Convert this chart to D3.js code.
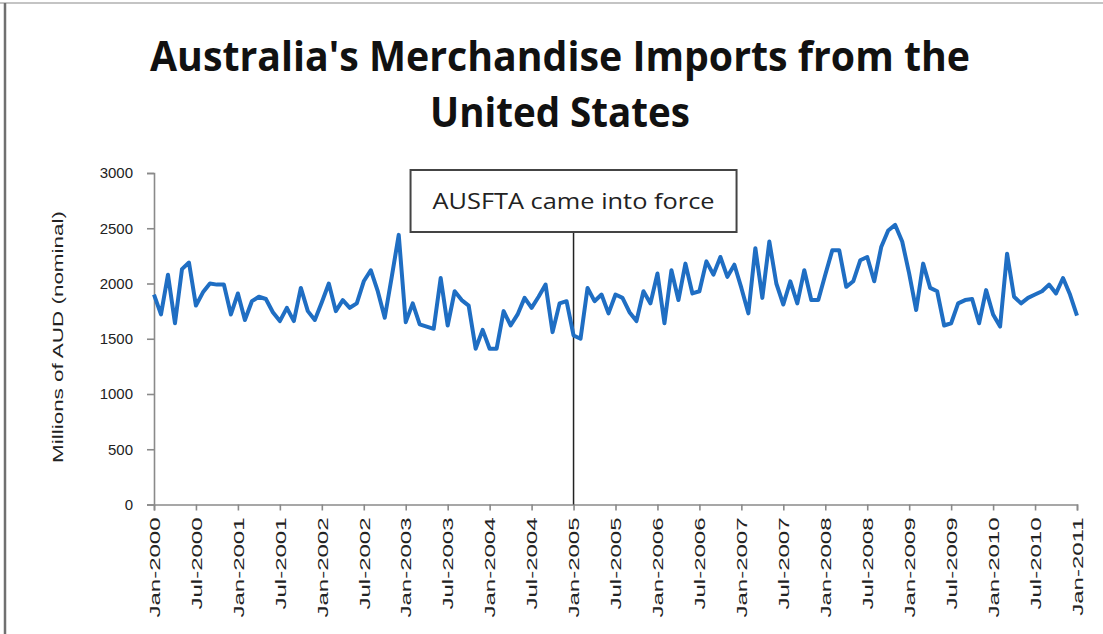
<!DOCTYPE html>
<html>
<head>
<meta charset="utf-8">
<script src="https://cdn.jsdelivr.net/npm/d3@7/dist/d3.min.js"></script>
<style>
  body { margin: 0; background: #fff; }
  svg { display: block; }
</style>
</head>
<body>
<svg id="svg1" width="1103" height="634"></svg>
<script>
// monthly imports, Jan-2000 .. Jan-2011 (millions of AUD)
var values = [
  1900, 1720, 2080, 1640, 2130, 2190, 1800, 1920, 2000, 1990, 1990, 1720,
  1910, 1670, 1840, 1880, 1860, 1740, 1660, 1780, 1660, 1960, 1750, 1670,
  1830, 2000, 1750, 1850, 1780, 1820, 2020, 2120, 1930, 1690, 2060, 2440,
  1650, 1820, 1630, 1610, 1590, 2050, 1620, 1930, 1850, 1800, 1410, 1580,
  1410, 1410, 1750, 1620, 1720, 1870, 1780, 1880, 1990, 1560, 1820, 1840,
  1530, 1500, 1960, 1840, 1900, 1730, 1900, 1870, 1740, 1660, 1930, 1820,
  2090, 1640, 2120, 1850, 2180, 1910, 1930, 2200, 2080, 2240, 2060, 2170,
  1960, 1730, 2320, 1870, 2380, 2000, 1810, 2020, 1820, 2120, 1850, 1850,
  2080, 2300, 2300, 1970, 2020, 2210, 2240, 2020, 2330, 2480, 2530, 2380,
  2090, 1760, 2180, 1960, 1930, 1620, 1640, 1820, 1850, 1860, 1640, 1940,
  1720, 1610, 2270, 1880, 1820, 1870, 1900, 1930, 1990, 1910, 2050, 1900,
  1710
];
var tickLabels = [
  "Jan-2000", "Jul-2000", "Jan-2001", "Jul-2001", "Jan-2002", "Jul-2002",
  "Jan-2003", "Jul-2003", "Jan-2004", "Jul-2004", "Jan-2005", "Jul-2005",
  "Jan-2006", "Jul-2006", "Jan-2007", "Jul-2007", "Jan-2008", "Jul-2008",
  "Jan-2009", "Jul-2009", "Jan-2010", "Jul-2010", "Jan-2011"
];
var yTicks = [0, 500, 1000, 1500, 2000, 2500, 3000];
var eventMonth = 60;   // Jan-2005
var eventLabel = "AUSFTA came into force";
var titleLines = ["Australia's Merchandise Imports from the", "United States"];

var svg = d3.select('#svg1');

// frame edges of the original chart object
svg.append('line').attr('x1', 0).attr('x2', 1103).attr('y1', 3).attr('y2', 3)
    .attr('stroke', '#b0b0b0').attr('stroke-width', 1.5);
svg.append('line').attr('x1', 5).attr('x2', 5).attr('y1', 3).attr('y2', 634)
    .attr('stroke', '#707070').attr('stroke-width', 2.5);

var x = d3.scaleLinear().domain([0, values.length - 1]).range([154, 1077]);
var y = d3.scaleLinear().domain([0, 3000]).range([504.5, 173]);

// title (the source image is stretched vertically, so squeeze the text)
svg.selectAll('text.title')
    .data(titleLines)
    .enter()
    .append('text')
    .attr('class', 'title')
    .attr('transform', function(d, i){ return 'translate(560,' + (i == 0 ? 71 : 127) + ') scale(1,1.12)'; })
    .attr('text-anchor', 'middle')
    .attr('textLength', function(d, i){ return i == 0 ? 820 : 260; })
    .attr('lengthAdjust', 'spacingAndGlyphs')
    .style('font-family', '"Open Sans", sans-serif')
    .style('font-weight', 'bold')
    .style('font-size', '37px')
    .style('fill', '#111')
    .text(function(d){ return d; });

// y axis
var yAxis = svg.append('g')
    .attr('transform', 'translate(154,0)')
    .call(d3.axisLeft(y).tickValues(yTicks).tickFormat(d3.format('d')).tickSize(7).tickPadding(14));
yAxis.selectAll('path, line').attr('stroke', '#8a8a8a').attr('stroke-width', 1.6);
yAxis.selectAll('text')
    .style('font-family', '"Liberation Sans", Arial, sans-serif')
    .style('font-size', '15px')
    .style('fill', '#222');

svg.append('text')
    .attr('transform', 'translate(63,337) rotate(-90)')
    .attr('text-anchor', 'middle')
    .attr('textLength', 252)
    .attr('lengthAdjust', 'spacingAndGlyphs')
    .style('font-family', '"Liberation Sans", Arial, sans-serif')
    .style('font-size', '15px')
    .style('fill', '#222')
    .text('Millions of AUD (nominal)');

// x axis
var xAxis = svg.append('g')
    .attr('transform', 'translate(0,' + y(0) + ')')
    .call(d3.axisBottom(x)
        .tickValues(d3.range(0, values.length, 6))
        .tickFormat(function(d, i){ return tickLabels[i]; })
        .tickSize(6));
xAxis.selectAll('path, line').attr('stroke', '#8a8a8a').attr('stroke-width', 1.6);
xAxis.selectAll('text')
    .attr('x', 0)
    .attr('y', 0)
    .attr('dy', '0.35em')
    .attr('transform', 'rotate(-90) translate(-13,0) scale(1.6,1)')
    .style('text-anchor', 'end')
    .style('font-family', '"Liberation Sans", Arial, sans-serif')
    .style('font-size', '15px')
    .style('fill', '#222');

// event marker
var ex = x(eventMonth);
svg.append('line')
    .attr('x1', ex).attr('x2', ex)
    .attr('y1', 232).attr('y2', y(0))
    .attr('stroke', '#222').attr('stroke-width', 1.5);

// data line
var line = d3.line()
    .x(function(d, i){ return x(i); })
    .y(function(d){ return y(d); });

svg.append('path')
    .datum(values)
    .attr('d', line)
    .attr('fill', 'none')
    .attr('stroke', '#1f6ec3')
    .attr('stroke-width', 4)
    .attr('stroke-linejoin', 'round');

// annotation box
svg.append('rect')
    .attr('x', ex - 163).attr('y', 170)
    .attr('width', 326).attr('height', 62)
    .attr('fill', '#fff')
    .attr('stroke', '#444').attr('stroke-width', 2);
svg.append('text')
    .attr('x', ex).attr('y', 209)
    .attr('text-anchor', 'middle')
    .attr('textLength', 282)
    .attr('lengthAdjust', 'spacingAndGlyphs')
    .style('font-family', '"Open Sans", sans-serif')
    .style('font-size', '21px')
    .style('fill', '#222')
    .text(eventLabel);
</script>
</body>
</html>
